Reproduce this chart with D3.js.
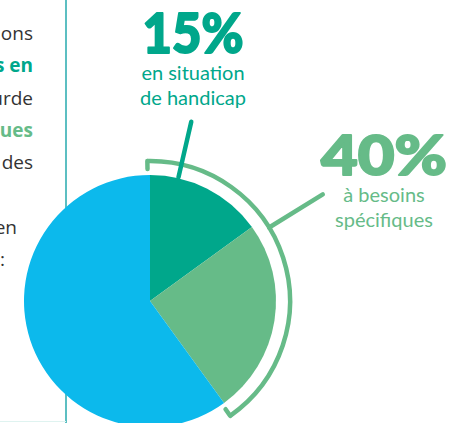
<!DOCTYPE html>
<html>
<head>
<meta charset="utf-8">
<script src="https://cdn.jsdelivr.net/npm/d3@7"></script>
<style>
  body { margin: 0; background: #fff; }
  svg { display: block; }
</style>
</head>
<body>
<svg id="chart"></svg>
<script>
// slices of the pie, in drawing order from 12 o'clock clockwise
const slices = ["handicap", "besoins", "autres"];
const shares = [15, 25, 60];
const sliceColors = ["#00a78b", "#66bb88", "#0cb9ec"];

// the two callouts
const calloutValues = ["15%", "40%"];
const calloutLines = [["en situation", "de handicap"], ["à besoins", "spécifiques"]];

// cut-off body text on the left
const bodyLines = ["ons", "s en", "urde", "ques", "des", "", "en", ":"];
const bodyStyle = ["n", "teal", "n", "green", "n", "n", "n", "n"];

const width = 449, height = 423;
const cx = 150, cy = 301, radius = 126;

const svg = d3.select("#chart").attr("width", width).attr("height", height);

// angle scale: percent -> radians from the top
const angle = d3.scaleLinear().domain([0, 100]).range([0, 2 * Math.PI]);
const polar = (pct, r) => [cx + r * Math.sin(angle(pct)), cy - r * Math.cos(angle(pct))];

// left text column
const textG = svg.append("g").attr("font-family", "'Open Sans', 'Noto Sans', sans-serif").attr("font-size", 19);
textG.selectAll("text").data(bodyLines).join("text")
  .attr("x", (d, i) => i == 6 ? 17 : (i == 7 ? 5 : 33))
  .attr("y", (d, i) => 40 + i * 32.3)
  .attr("text-anchor", "end")
  .attr("font-weight", (d, i) => bodyStyle[i] == "n" ? 400 : 700)
  .attr("fill", (d, i) => bodyStyle[i] == "teal" ? "#00a78b" : bodyStyle[i] == "green" ? "#66bb88" : "#333")
  .text(d => d);

// vertical divider
svg.append("line").attr("x1", 66).attr("x2", 66).attr("y1", 0).attr("y2", height)
  .attr("stroke", "#5cbfc2").attr("stroke-width", 2);
svg.append("line").attr("x1", 0).attr("x2", 66).attr("y1", 421.5).attr("y2", 421.5)
  .attr("stroke", "#dff3f0").attr("stroke-width", 1);

// pie
const pie = d3.pie().sort(null).value(d => d);
const arc = d3.arc().innerRadius(0).outerRadius(radius);
const g = svg.append("g").attr("transform", `translate(${cx},${cy})`);
g.selectAll("path").data(pie(shares)).join("path")
  .attr("d", arc)
  .attr("fill", (d, i) => sliceColors[i]);

// bracket arc covering the first two slices (40%)
const bracketR = 140;
const total40 = shares[0] + shares[1];
const bracket = d3.arc().innerRadius(bracketR).outerRadius(bracketR)
  .startAngle(angle(-0.3)).endAngle(angle(total40 + 0.3));
g.append("path").attr("d", bracket()).attr("fill", "none")
  .attr("stroke", "#66bb88").attr("stroke-width", 4.5).attr("stroke-linecap", "round");

// inward ticks at each end of the bracket
[-0.3, total40 + 0.3].forEach(p => {
  const a = polar(p, bracketR), b = polar(p, bracketR - 8);
  svg.append("line").attr("x1", a[0]).attr("y1", a[1]).attr("x2", b[0]).attr("y2", b[1])
    .attr("stroke", "#66bb88").attr("stroke-width", 4.5).attr("stroke-linecap", "round");
});

// pointer lines
const p1a = polar(3.6, radius + 1), p1b = polar(3.6, 184);
svg.append("line").attr("x1", p1a[0]).attr("y1", p1a[1]).attr("x2", p1b[0]).attr("y2", p1b[1])
  .attr("stroke", "#00a78b").attr("stroke-width", 4.5).attr("stroke-linecap", "round");
const p2a = polar(16.2, bracketR), p2b = polar(16.2, 203);
svg.append("line").attr("x1", p2a[0]).attr("y1", p2a[1]).attr("x2", p2b[0]).attr("y2", p2b[1])
  .attr("stroke", "#66bb88").attr("stroke-width", 4.5).attr("stroke-linecap", "round");

// callout labels
const callouts = [
  { x: 193, y: 53, y1: 80, w: 101, color: "#00a78b" },
  { x: 384, y: 175, y1: 202, w: 126, color: "#66bb88" }
];
callouts.forEach((c, i) => {
  svg.append("text").attr("x", c.x).attr("y", c.y).attr("text-anchor", "middle")
    .attr("font-family", "Lato, 'DejaVu Sans', sans-serif").attr("font-weight", 900)
    .attr("font-size", 56).attr("fill", c.color)
    .attr("stroke", c.color).attr("stroke-width", 2).attr("stroke-linejoin", "round")
    .attr("textLength", c.w).attr("lengthAdjust", "spacingAndGlyphs")
    .text(calloutValues[i]);
  svg.append("g").selectAll("text").data(calloutLines[i]).join("text")
    .attr("x", c.x).attr("y", (d, j) => c.y1 + j * 25).attr("text-anchor", "middle")
    .attr("font-family", "Lato, 'Open Sans', sans-serif").attr("font-size", 20)
    .attr("fill", c.color).text(d => d);
});
</script>
</body>
</html>
